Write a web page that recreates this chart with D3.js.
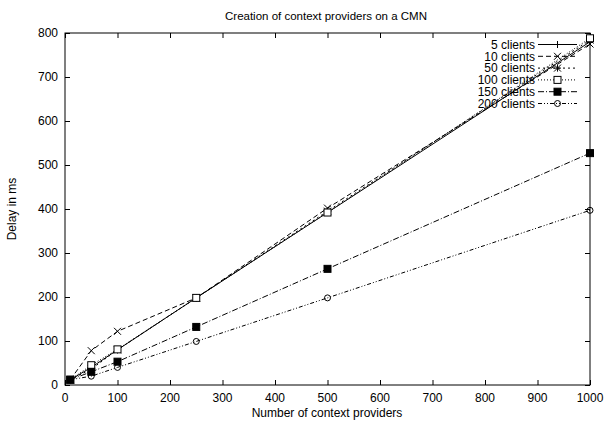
<!DOCTYPE html>
<html>
<head>
<meta charset="utf-8">
<script src="https://cdn.jsdelivr.net/npm/d3@7"></script>
<style>
  body { margin: 0; background: #fff; }
  svg text { font-family: "Liberation Sans", Arial, sans-serif; font-size: 12px; fill: #000; }
</style>
</head>
<body>
<svg id="chart" width="605" height="423"></svg>
<script>
// x positions (number of context providers)
const providers = [10, 50, 100, 250, 500, 1000];

// delay in ms, one array per client count
const clients5   = [12, 40, 80, 198, 392, 780];
const clients10  = [12, 78, 122, 198, 402, 775];
const clients50  = [12, 36, 80, 198, 395, 784];
const clients100 = [12, 45, 81, 198, 392, 788];
const clients150 = [12, 30, 53, 132, 264, 527];
const clients200 = [12, 20, 40, 99, 198, 397];

const seriesNames = ['5 clients', '10 clients', '50 clients', '100 clients', '150 clients', '200 clients'];
const xTicks = [0, 100, 200, 300, 400, 500, 600, 700, 800, 900, 1000];
const yTicks = [0, 100, 200, 300, 400, 500, 600, 700, 800];

// gnuplot-like line/point types
const dashes = [null, '5,3', '2,3', '1,2', '6,2,1,2', '4,2,1,2,1,2'];
const points = ['plus', 'cross', 'star', 'box', 'fbox', 'circle'];

const series = [clients5, clients10, clients50, clients100, clients150, clients200]
    .map((vals, i) => ({ name: seriesNames[i], vals, dash: dashes[i], pt: points[i] }));

const svg = d3.select('#chart');
const m = { left: 65, right: 15, top: 33, bottom: 38 };
const W = 605, H = 423;

const x = d3.scaleLinear().domain([0, 1000]).range([m.left, W - m.right]);
const y = d3.scaleLinear().domain([0, 800]).range([H - m.bottom, m.top]);

const tk = 5;

// axes: ticks pointing inward, mirrored on top / right
svg.append('g').attr('transform', `translate(0,${y(0)})`)
    .call(d3.axisTop(x).tickValues(xTicks).tickSize(tk).tickFormat(''))
    .call(g => g.select('.domain').remove());
svg.append('g').attr('transform', `translate(0,${y(800)})`)
    .call(d3.axisBottom(x).tickValues(xTicks).tickSize(tk).tickFormat(''))
    .call(g => g.select('.domain').remove());
svg.append('g').attr('transform', `translate(${x(0)},0)`)
    .call(d3.axisRight(y).tickValues(yTicks).tickSize(tk).tickFormat(''))
    .call(g => g.select('.domain').remove());
svg.append('g').attr('transform', `translate(${x(1000)},0)`)
    .call(d3.axisLeft(y).tickValues(yTicks).tickSize(tk).tickFormat(''))
    .call(g => g.select('.domain').remove());
svg.selectAll('.tick line').attr('stroke', '#000');

// tick labels
svg.append('g').selectAll('text').data(xTicks).join('text')
    .attr('x', d => x(d)).attr('y', y(0) + 17)
    .attr('text-anchor', 'middle').text(d => d);
svg.append('g').selectAll('text').data(yTicks).join('text')
    .attr('x', x(0) - 7).attr('y', d => y(d) + 4.3)
    .attr('text-anchor', 'end').text(d => d);

// frame
svg.append('rect')
    .attr('x', x(0)).attr('y', y(800))
    .attr('width', x(1000) - x(0)).attr('height', y(0) - y(800))
    .attr('fill', 'none').attr('stroke', '#000');

// titles
svg.append('text').attr('x', 326).attr('y', 20).attr('text-anchor', 'middle')
    .style('font-size', '11.5px')
    .text('Creation of context providers on a CMN');
svg.append('text').attr('x', 327).attr('y', 417).attr('text-anchor', 'middle')
    .text('Number of context providers');
svg.append('text').attr('transform', `translate(16,${(y(0) + y(800)) / 2}) rotate(-90)`)
    .attr('text-anchor', 'middle').text('Delay in ms');

const symbol = (g, type, cx, cy) => {
    const s = 3.5;
    if (type === 'plus' || type === 'star') {
        g.append('path').attr('d', `M${cx - s},${cy}H${cx + s}M${cx},${cy - s}V${cy + s}`)
            .attr('stroke', '#000').attr('fill', 'none');
    }
    if (type === 'cross' || type === 'star') {
        g.append('path').attr('d', `M${cx - s},${cy - s}L${cx + s},${cy + s}M${cx - s},${cy + s}L${cx + s},${cy - s}`)
            .attr('stroke', '#000').attr('fill', 'none');
    }
    if (type === 'box' || type === 'fbox') {
        g.append('rect').attr('x', cx - s).attr('y', cy - s).attr('width', 2 * s).attr('height', 2 * s)
            .attr('fill', type === 'fbox' ? '#000' : '#fff').attr('stroke', '#000');
    }
    if (type === 'circle') {
        g.append('circle').attr('cx', cx).attr('cy', cy).attr('r', 3)
            .attr('fill', 'none').attr('stroke', '#000');
    }
};

const line = d3.line().x((d, i) => x(providers[i])).y(d => y(d));

series.forEach(s => {
    const g = svg.append('g');
    g.append('path').datum(s.vals).attr('d', line)
        .attr('fill', 'none').attr('stroke', '#000').attr('stroke-width', 1)
        .attr('stroke-dasharray', s.dash);
    s.vals.forEach((v, i) => symbol(g, s.pt, x(providers[i]), y(v)));
});

// legend
const lg = svg.append('g');
series.forEach((s, i) => {
    const ly = 44.5 + i * 11.8;
    lg.append('text').attr('x', 535).attr('y', ly + 4.3).attr('text-anchor', 'end').text(s.name);
    lg.append('line').attr('x1', 538).attr('x2', 577).attr('y1', ly).attr('y2', ly)
        .attr('stroke', '#000').attr('stroke-dasharray', s.dash);
    symbol(lg, s.pt, 557.5, ly);
});
</script>
</body>
</html>
